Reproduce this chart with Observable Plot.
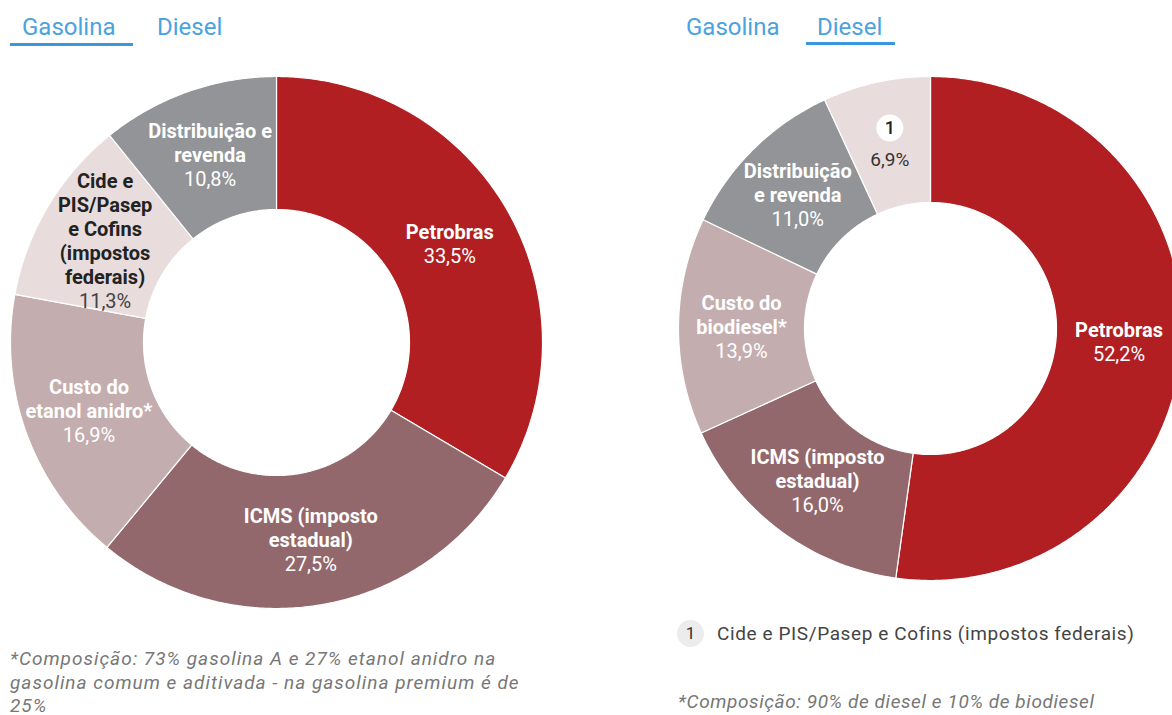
<!DOCTYPE html>
<html>
<head>
<meta charset="utf-8">
<script src="https://cdn.jsdelivr.net/npm/d3@7"></script>
<script src="https://cdn.jsdelivr.net/npm/@observablehq/plot@0.6"></script>
<style>
  html, body { margin: 0; padding: 0; background: #fff; overflow: hidden; }
  body { width: 1172px; height: 715px; position: relative; font-family: Roboto, "Noto Sans", sans-serif; }
  .tab { position: absolute; font-size: 24px; color: #4aa3df; line-height: 28px; }
  .uline { position: absolute; height: 3px; background: #3a97dc; }
  .chart { position: absolute; top: 0; }
  .note { position: absolute; font-style: italic; font-size: 19px; letter-spacing: 0.6px; line-height: 24px; color: #777; }
  .legend { position: absolute; font-size: 19px; letter-spacing: 0.6px; color: #444; line-height: 26px; display: flex; align-items: center; }
  .legend .num { display: inline-block; width: 27px; height: 27px; border-radius: 50%; background: #ececec; color: #333; text-align: center; line-height: 27px; margin-right: 13px; font-size: 17px; letter-spacing: 0; }
</style>
</head>
<body>
<div class="tab" style="left:22px; top:13px;">Gasolina</div>
<div class="tab" style="left:157px; top:13px;">Diesel</div>
<div class="uline" style="left:10px; top:43px; width:123px;"></div>
<div class="tab" style="left:686px; top:13px;">Gasolina</div>
<div class="tab" style="left:817px; top:13px;">Diesel</div>
<div class="uline" style="left:806px; top:42px; width:89px;"></div>

<div id="gas" class="chart" style="left:0px;"></div>
<div id="diesel" class="chart" style="left:660px;"></div>

<div class="note" style="left:10px; top:647px; width:522px; letter-spacing:1px; line-height:23.5px;">*Composição: 73% gasolina A e 27% etanol anidro na gasolina comum e aditivada - na gasolina premium é de 25%</div>
<div class="legend" style="left:677px; top:620px;"><span class="num">1</span>Cide e PIS/Pasep e Cofins (impostos federais)</div>
<div class="note" style="left:678px; top:690px;">*Composição: 90% de diesel e 10% de biodiesel</div>

<script>
// ---- Data ----
const gasCategories = ["Petrobras", "ICMS", "Custo do etanol anidro", "Cide e PIS/Pasep e Cofins", "Distribuição e revenda"];
const gasValues = [33.5, 27.5, 16.9, 11.3, 10.8];
const gasLabels = ["Petrobras", "ICMS (imposto\nestadual)", "Custo do\netanol anidro*", "Cide e\nPIS/Pasep\ne Cofins\n(impostos\nfederais)", "Distribuição e\nrevenda"];

const dieselCategories = ["Petrobras", "ICMS", "Custo do biodiesel", "Distribuição e revenda", "Cide e PIS/Pasep e Cofins"];
const dieselValues = [52.2, 16.0, 13.9, 11.0, 6.9];
const dieselLabels = ["Petrobras", "ICMS (imposto\nestadual)", "Custo do\nbiodiesel*", "Distribuição\ne revenda", "1"];

// ---- Palette ----
const colorOf = {
  "Petrobras": "#b11f22",
  "ICMS": "#93686d",
  "Custo do etanol anidro": "#c4adaf",
  "Custo do biodiesel": "#c4adaf",
  "Cide e PIS/Pasep e Cofins": "#e8dcdd",
  "Distribuição e revenda": "#929497"
};
const darkText = new Set(["Cide e PIS/Pasep e Cofins"]);

function fmt(v) { return v.toFixed(1).replace(".", ",") + "%"; }

function donut({categories, values, labels, width, height, cx, cy, R, inner, badge}) {
  const arcs = d3.pie().sort(null).startAngle(0).endAngle(2 * Math.PI)(values);
  const poly = [];
  const labs = [];
  arcs.forEach((a, i) => {
    const key = categories[i];
    const n = Math.max(2, Math.ceil((a.endAngle - a.startAngle) / 0.01));
    for (let k = 0; k <= n; k++) {
      const t = a.startAngle + (a.endAngle - a.startAngle) * k / n;
      poly.push({key, x: Math.sin(t), y: Math.cos(t)});
    }
    for (let k = n; k >= 0; k--) {
      const t = a.startAngle + (a.endAngle - a.startAngle) * k / n;
      poly.push({key, x: inner * Math.sin(t), y: inner * Math.cos(t)});
    }
    const m = (a.startAngle + a.endAngle) / 2;
    const rr = (1 + inner) / 2;
    const nl = labels[i].split("\n").length;
    labs.push({
      key, x: rr * Math.sin(m), y: rr * Math.cos(m),
      label: labels[i],
      name: labels[i] + "\n",
      pctOnly: fmt(values[i]),
      pct: "\n".repeat(nl) + fmt(values[i]),
      dark: darkText.has(key),
      badge: badge && key === badge
    });
  });
  const normal = labs.filter(d => !d.badge);
  const badged = labs.filter(d => d.badge);
  return Plot.plot({
    width, height,
    margin: 0,
    x: {domain: [-1, 1], range: [cx - R, cx + R], axis: null},
    y: {domain: [-1, 1], range: [cy + R, cy - R], axis: null},
    color: {domain: Object.keys(colorOf), range: Object.values(colorOf)},
    style: {fontFamily: "Roboto, 'Noto Sans', sans-serif", background: "transparent", overflow: "visible"},
    marks: [
      Plot.line(poly, {x: "x", y: "y", z: "key", fill: "key", stroke: "#ffffff", strokeWidth: 1.2, curve: "linear-closed"}),
      Plot.text(normal, {x: "x", y: "y", text: "name", fill: d => d.dark ? "#222" : "#fff", fontSize: 20, fontWeight: "bold", lineHeight: 1.2, lineAnchor: "middle"}),
      Plot.text(normal, {x: "x", y: "y", text: "pct", fill: d => d.dark ? "#444" : "#fff", fontSize: 20, lineHeight: 1.2, lineAnchor: "middle"}),
      Plot.dot(badged, {x: "x", y: "y", r: 13.5, dy: -16, fill: "#fff"}),
      Plot.text(badged, {x: "x", y: "y", text: "label", dy: -16, fill: "#222", fontSize: 18, fontWeight: 500, lineAnchor: "middle"}),
      Plot.text(badged, {x: "x", y: "y", text: "pctOnly", dy: 16, fill: "#333", fontSize: 19, lineAnchor: "middle"})
    ]
  });
}

document.getElementById("gas").appendChild(donut({
  categories: gasCategories, values: gasValues, labels: gasLabels,
  width: 560, height: 620, cx: 276, cy: 342, R: 266, inner: 0.5
}));
document.getElementById("diesel").appendChild(donut({
  categories: dieselCategories, values: dieselValues, labels: dieselLabels,
  width: 512, height: 600, cx: 270, cy: 328, R: 252, inner: 0.5, badge: "Cide e PIS/Pasep e Cofins"
}));
</script>
</body>
</html>
